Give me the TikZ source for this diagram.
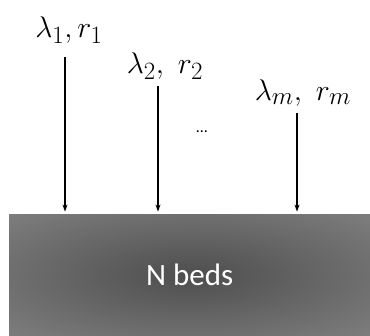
\documentclass[tikz,border=0pt]{standalone}
\usepackage{fontspec}
\setsansfont{Carlito}
\usepackage{tikz}
\usetikzlibrary{arrows.meta, positioning}
\definecolor{bedmid}{HTML}{4E4E4E}
\definecolor{bedinner}{HTML}{626262}
\definecolor{bededge}{HTML}{7E7E7E}
\definecolor{bedcorner}{HTML}{888888}
\pgfdeclareradialshading{bedglow}{\pgfpoint{0bp}{0bp}}{color(0bp)=(bedmid); color(15bp)=(bedinner); color(36bp)=(bededge); color(72bp)=(bedcorner)}

\begin{document}
\begin{tikzpicture}[
    x=1pt, y=1pt,
    rate/.style={inner sep=0pt, font=\Huge, scale=1.2, transform shape},
    ward/.style={rectangle, draw=none, shading=bedglow},
    arrow/.style={-{Stealth[length=7pt, width=5pt]}, line width=1.4pt, black, shorten >=3pt}
]
\useasboundingbox (0,0) rectangle (370,336);

% the ward
\node[ward, minimum width=361pt, minimum height=121pt, anchor=south west] (beds) at (9,0) {};
\node[text=white, font=\sffamily\fontsize{31}{35}\selectfont] (bedslabel) at (beds.center) {N beds};

% arrival streams
\node[rate] (lam1) at (69,306) {$\lambda_1, r_1$};
\node[rate] (lam2) at (165,270) {$\lambda_2,\ r_2$};
\node[rate] (lamm) at (303,243) {$\lambda_m,\ r_m$};
\node[font=\sffamily\fontsize{16}{18}\selectfont] (dots) at (202,204) {\ldots};

\coordinate (top1) at (65,279);
\coordinate (top2) at (158,250);
\coordinate (topm) at (297,223);

\draw[arrow] (top1) -- (top1 |- beds.north);
\draw[arrow] (top2) -- (top2 |- beds.north);
\draw[arrow] (topm) -- (topm |- beds.north);
\end{tikzpicture}
\end{document}
